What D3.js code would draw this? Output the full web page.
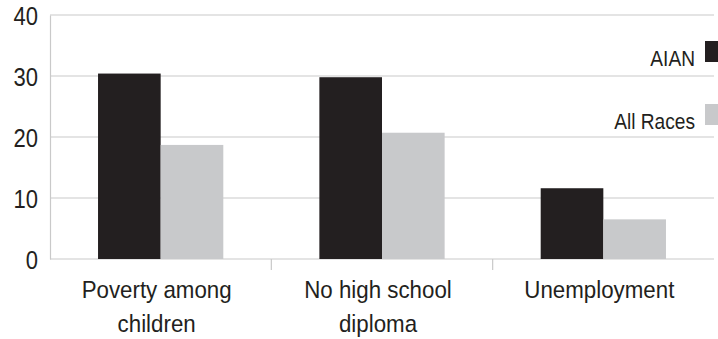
<!DOCTYPE html>
<html>
<head>
<meta charset="utf-8">
<script src="https://cdn.jsdelivr.net/npm/d3@7"></script>
<style>
  body { margin: 0; background: #fff; }
  svg text { font-family: "Liberation Sans", Arial, sans-serif; fill: #231f20; }
</style>
</head>
<body>
<svg id="chart" width="718" height="339"></svg>
<script>
// categories, two lines each
var categories = ["Poverty among children", "No high school diploma", "Unemployment"];
var catLines = [["Poverty among", "children"], ["No high school", "diploma"], ["Unemployment"]];
var seriesNames = ["AIAN", "All Races"];
var aian = [30.4, 29.8, 11.6];
var allRaces = [18.7, 20.7, 6.5];
var yTicks = [0, 10, 20, 30, 40];

var colors = {"AIAN": "#231f20", "All Races": "#c8c9cb"};
var gridColor = "#c9c9c9";

var svg = d3.select("#chart"),
    margin = {top: 15, right: 4, bottom: 80, left: 50},
    width = +svg.attr("width") - margin.left - margin.right,
    height = +svg.attr("height") - margin.top - margin.bottom,
    g = svg.append("g").attr("transform", "translate(" + margin.left + "," + margin.top + ")");

var data = categories.map(function(c, i) {
    return {id: c, valores: [{name: "AIAN", value: aian[i]}, {name: "All Races", value: allRaces[i]}]};
});

var x0 = d3.scaleBand().domain(categories).range([0, width]).padding(0);
var bw = x0.bandwidth();
var x1 = d3.scaleBand().domain(seriesNames).range([bw / 2 - bw * 0.283, bw / 2 + bw * 0.283]).padding(0);
var y = d3.scaleLinear().domain([0, 40]).range([height, 0]);

// gridlines
g.append("g").selectAll("line")
    .data(yTicks)
    .enter().append("line")
    .attr("x1", 0).attr("x2", width)
    .attr("y1", function(d) { return y(d); })
    .attr("y2", function(d) { return y(d); })
    .attr("stroke", gridColor)
    .attr("stroke-width", 1.2);

// left axis
var yAxis = g.append("g")
    .call(d3.axisLeft(y).tickValues(yTicks).tickSize(0).tickPadding(0));
yAxis.select(".domain").attr("stroke", gridColor).attr("stroke-width", 1.2);
yAxis.selectAll("text")
    .attr("x", null)
    .attr("dy", "0.36em")
    .attr("transform", "translate(-12,0) scale(0.88,1)")
    .attr("font-size", 25)
    .style("font-family", null)
    .attr("fill", "#231f20");
yAxis.attr("font-family", null);

// category separator ticks
g.append("g").selectAll("line")
    .data(categories.slice(1))
    .enter().append("line")
    .attr("x1", function(d) { return x0(d); })
    .attr("x2", function(d) { return x0(d); })
    .attr("y1", height).attr("y2", height + 11)
    .attr("stroke", gridColor)
    .attr("stroke-width", 1.2);

// bars
var chart = g.selectAll(".bars")
    .data(data)
    .enter().append("g")
    .attr("transform", function(d) { return "translate(" + x0(d.id) + ",0)"; });

chart.selectAll("rect")
    .data(function(d) { return d.valores; })
    .enter().append("rect")
    .attr("x", function(d) { return x1(d.name); })
    .attr("y", function(d) { return y(d.value); })
    .attr("width", x1.bandwidth())
    .attr("height", function(d) { return height - y(d.value); })
    .attr("fill", function(d) { return colors[d.name]; });

// category labels
var labels = g.selectAll(".catLabel")
    .data(categories)
    .enter().append("g")
    .attr("transform", function(d) { return "translate(" + (x0(d) + bw / 2 - 4) + "," + (height + 38.5) + ")"; });

labels.selectAll("text")
    .data(function(d, i) { return catLines[i]; })
    .enter().append("text")
    .attr("y", function(d, i) { return i * 35; })
    .attr("transform", "scale(0.93,1)")
    .attr("text-anchor", "middle")
    .attr("font-size", 24)
    .text(function(d) { return d; });

// legend
var legend = svg.selectAll(".legend")
    .data(seriesNames)
    .enter().append("g")
    .attr("transform", function(d, i) { return "translate(0," + (63 * i) + ")"; });

legend.append("rect")
    .attr("x", 705)
    .attr("y", 41)
    .attr("width", 14)
    .attr("height", 21)
    .attr("fill", function(d) { return colors[d]; });

legend.append("text")
    .attr("transform", "translate(695,66) scale(0.87,1)")
    .attr("text-anchor", "end")
    .attr("font-size", 22)
    .text(function(d) { return d; });
</script>
</body>
</html>
